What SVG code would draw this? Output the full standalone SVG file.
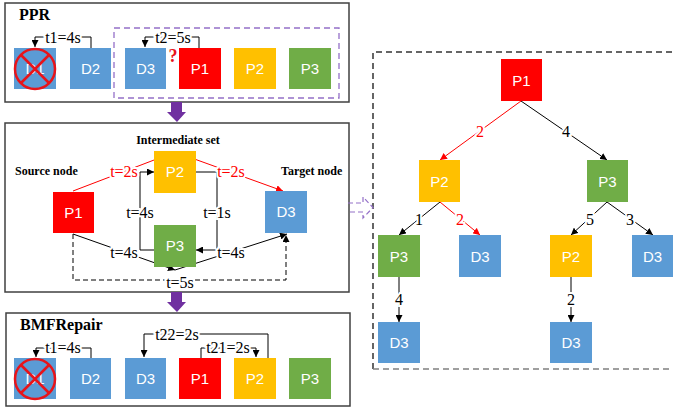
<svg xmlns="http://www.w3.org/2000/svg" width="673" height="410" viewBox="0 0 673 410">
<style>
.panel{fill:#fff;stroke:#404040;stroke-width:1.5}
.nd text{font-family:"Liberation Sans",Arial,sans-serif;font-size:15px;fill:#fff;text-anchor:middle}
.lb{font-family:"Liberation Serif","Times New Roman",serif;font-size:16px;fill:#000;text-anchor:middle}
.lbw{paint-order:stroke;stroke:#fff;stroke-width:4px}
.ttl{font-family:"Liberation Serif","Times New Roman",serif;font-weight:bold;fill:#000}
.red{fill:#FF0000}.yel{fill:#FFC000}.grn{fill:#70AD47}.blu{fill:#5B9BD5}
.k{fill:none;stroke:#000;stroke-width:1}
.r{fill:none;stroke:#FF0000;stroke-width:1}
.cross{fill:none;stroke:#E8141A;stroke-width:2.5}
</style>
<defs>
<marker id="ak" viewBox="0 0 10 10" refX="10" refY="5" markerWidth="7" markerHeight="7" markerUnits="userSpaceOnUse" orient="auto"><path d="M0,0 L10,5 L0,10 z" fill="#000"/></marker>
<marker id="ar" viewBox="0 0 10 10" refX="10" refY="5" markerWidth="7" markerHeight="7" markerUnits="userSpaceOnUse" orient="auto"><path d="M0,0 L10,5 L0,10 z" fill="#FF0000"/></marker>
</defs>

<!-- Panels -->
<rect class="panel" x="5" y="3" width="344" height="99"/>
<rect class="panel" x="5" y="123" width="344" height="169"/>
<rect class="panel" x="6" y="313" width="344" height="93"/>
<path d="M373,369 V52 H690" fill="none" stroke="#333" stroke-width="1.5" stroke-dasharray="6,4"/>
<path d="M373,369 H690" fill="none" stroke="#808080" stroke-width="1.5" stroke-dasharray="6,4"/>

<!-- Panel titles -->
<text class="ttl" x="19" y="20" font-size="16">PPR</text>
<text class="ttl" x="20" y="330" font-size="16">BMFRepair</text>
<text class="ttl" x="178" y="144" font-size="12" text-anchor="middle">Intermediate set</text>
<text class="ttl" x="15" y="175" font-size="12">Source node</text>
<text class="ttl" x="281" y="175" font-size="12">Target node</text>

<!-- Purple dashed box and arrows -->
<rect x="114" y="28" width="225" height="70" fill="none" stroke="#9470C8" stroke-width="1.3" stroke-dasharray="6,4"/>
<path d="M171,102 H182 V112 H186 L177,122 L167,112 H171 Z" fill="#7030A0"/>
<path d="M171,292 H182 V302 H186 L177,312 L167,302 H171 Z" fill="#7030A0"/>
<path d="M348,203 H363 V197 L373,207.5 L363,218 V212 H348" fill="none" stroke="#9470C8" stroke-width="1.2" stroke-dasharray="5,3"/>

<!-- Connectors -->
<g id="connectors">
<!-- PPR -->
<path class="k" d="M91,48 V37 H35 V47" marker-end="url(#ak)"/>
<path class="k" d="M199,48 V37 H145 V47" marker-end="url(#ak)"/>
<text class="lb lbw" x="63" y="43">t1=4s</text>
<text class="lb lbw" x="173" y="43">t2=5s</text>
<text x="173" y="62" font-family="Liberation Serif,serif" font-weight="bold" font-size="18" fill="#E8141A" text-anchor="middle">?</text>
<!-- middle -->
<path class="r" d="M73,191 L175,152" marker-end="url(#ar)"/>
<path class="r" d="M175,152 L283,191" marker-end="url(#ar)"/>
<path class="k" d="M154,250 H140 V172 H154" marker-end="url(#ak)"/>
<path class="k" d="M196,172 H217 V250 H196" marker-end="url(#ak)"/>
<path class="k" d="M73,234 L175,270" marker-end="url(#ak)"/>
<path class="k" d="M175,270 L287,234" marker-end="url(#ak)"/>
<path class="k" d="M73,234 V280 H286 V235" stroke-dasharray="5,3" marker-end="url(#ak)"/>
<text class="lb lbw" x="124" y="177" style="fill:#FF0000">t=2s</text>
<text class="lb lbw" x="231" y="177" style="fill:#FF0000">t=2s</text>
<text class="lb lbw" x="140" y="218">t=4s</text>
<text class="lb lbw" x="217" y="218">t=1s</text>
<text class="lb lbw" x="124" y="258">t=4s</text>
<text class="lb lbw" x="231" y="258">t=4s</text>
<text class="lb lbw" x="180" y="288">t=5s</text>
<!-- BMFRepair -->
<path class="k" d="M91,358 V348 H36 V357" marker-end="url(#ak)"/>
<path class="k" d="M268,358 V334 H144 V357" marker-end="url(#ak)"/>
<path class="k" d="M201,358 V348 H256 V357" marker-end="url(#ak)"/>
<text class="lb lbw" x="63" y="353">t1=4s</text>
<text class="lb lbw" x="177" y="340">t22=2s</text>
<text class="lb lbw" x="228" y="353">t21=2s</text>
<!-- tree -->
<path class="r" d="M521,101 L440,160" marker-end="url(#ar)"/>
<path class="k" d="M521,101 L607,160" marker-end="url(#ak)"/>
<path class="k" d="M440,202 L399,235" marker-end="url(#ak)"/>
<path class="r" d="M440,202 L480,235" marker-end="url(#ar)"/>
<path class="k" d="M607,202 L571,235" marker-end="url(#ak)"/>
<path class="k" d="M607,202 L653,235" marker-end="url(#ak)"/>
<path class="k" d="M399,277 V322" marker-end="url(#ak)"/>
<path class="k" d="M571,277 V322" marker-end="url(#ak)"/>
<text class="lb lbw" x="480" y="137" style="fill:#FF0000">2</text>
<text class="lb lbw" x="566" y="137">4</text>
<text class="lb lbw" x="419" y="225">1</text>
<text class="lb lbw" x="460" y="225" style="fill:#FF0000">2</text>
<text class="lb lbw" x="590" y="225">5</text>
<text class="lb lbw" x="630" y="225">3</text>
<text class="lb lbw" x="399" y="305">4</text>
<text class="lb lbw" x="571" y="305">2</text>
</g>

<!-- PPR nodes -->
<g id="ppr-d1" class="nd"><rect class="blu" x="14" y="48" width="42" height="41"/><text x="35" y="74">D1</text><circle class="cross" cx="35" cy="69" r="20"/><path class="cross" d="M21,55 L49,83 M49,55 L21,83"/></g>
<g id="ppr-d2" class="nd"><rect class="blu" x="70" y="48" width="41" height="41"/><text x="90.5" y="74">D2</text></g>
<g id="ppr-d3" class="nd"><rect class="blu" x="125" y="48" width="41" height="41"/><text x="145.5" y="74">D3</text></g>
<g id="ppr-p1" class="nd"><rect class="red" x="179" y="48" width="42" height="41"/><text x="200" y="74">P1</text></g>
<g id="ppr-p2" class="nd"><rect class="yel" x="234" y="48" width="42" height="41"/><text x="255" y="74">P2</text></g>
<g id="ppr-p3" class="nd"><rect class="grn" x="289" y="48" width="42" height="41"/><text x="310" y="74">P3</text></g>

<!-- middle nodes -->
<g id="mid-p1" class="nd"><rect class="red" x="53" y="192" width="41" height="41"/><text x="73.5" y="218">P1</text></g>
<g id="mid-p2" class="nd"><rect class="yel" x="154" y="151" width="42" height="42"/><text x="175" y="177">P2</text></g>
<g id="mid-p3" class="nd"><rect class="grn" x="154" y="225" width="42" height="42"/><text x="175" y="251">P3</text></g>
<g id="mid-d3" class="nd"><rect class="blu" x="265" y="191" width="42" height="42"/><text x="286" y="217">D3</text></g>

<!-- BMFRepair nodes -->
<g id="bmf-d1" class="nd"><rect class="blu" x="14" y="358" width="42" height="41"/><text x="35" y="384">D1</text><circle class="cross" cx="35" cy="379" r="20"/><path class="cross" d="M21,365 L49,393 M49,365 L21,393"/></g>
<g id="bmf-d2" class="nd"><rect class="blu" x="70" y="358" width="41" height="41"/><text x="90.5" y="384">D2</text></g>
<g id="bmf-d3" class="nd"><rect class="blu" x="125" y="358" width="41" height="41"/><text x="145.5" y="384">D3</text></g>
<g id="bmf-p1" class="nd"><rect class="red" x="179" y="358" width="42" height="41"/><text x="200" y="384">P1</text></g>
<g id="bmf-p2" class="nd"><rect class="yel" x="234" y="358" width="42" height="41"/><text x="255" y="384">P2</text></g>
<g id="bmf-p3" class="nd"><rect class="grn" x="289" y="358" width="42" height="41"/><text x="310" y="384">P3</text></g>

<!-- tree nodes -->
<g id="tree-p1" class="nd"><rect class="red" x="501" y="59" width="41" height="42"/><text x="521.5" y="86">P1</text></g>
<g id="tree-p2" class="nd"><rect class="yel" x="419" y="160" width="41" height="42"/><text x="439.5" y="187">P2</text></g>
<g id="tree-p3" class="nd"><rect class="grn" x="587" y="160" width="41" height="42"/><text x="607.5" y="187">P3</text></g>
<g id="tree-p3b" class="nd"><rect class="grn" x="378" y="235" width="42" height="42"/><text x="399" y="262">P3</text></g>
<g id="tree-d3a" class="nd"><rect class="blu" x="459" y="235" width="42" height="42"/><text x="480" y="262">D3</text></g>
<g id="tree-p2b" class="nd"><rect class="yel" x="550" y="235" width="42" height="42"/><text x="571" y="262">P2</text></g>
<g id="tree-d3b" class="nd"><rect class="blu" x="632" y="235" width="41" height="42"/><text x="652.5" y="262">D3</text></g>
<g id="tree-d3c" class="nd"><rect class="blu" x="378" y="322" width="42" height="41"/><text x="399" y="348">D3</text></g>
<g id="tree-d3d" class="nd"><rect class="blu" x="550" y="322" width="42" height="41"/><text x="571" y="348">D3</text></g>
</svg>
